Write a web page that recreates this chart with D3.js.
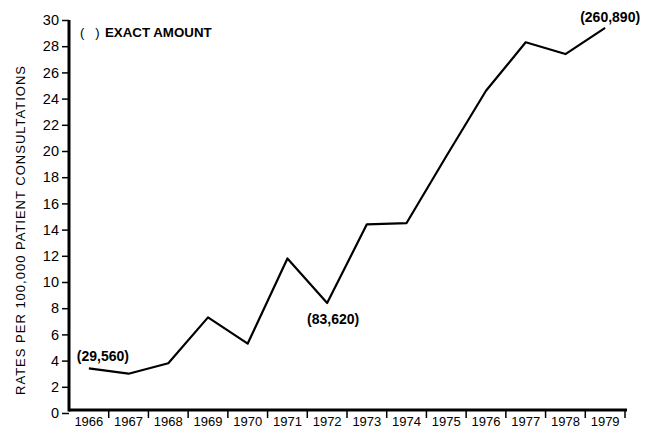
<!DOCTYPE html>
<html>
<head>
<meta charset="utf-8">
<script src="https://cdn.jsdelivr.net/npm/d3@7"></script>
<style>
  html, body { margin: 0; padding: 0; background: #fff; }
  svg { display: block; }
  text { font-family: "Liberation Sans", Arial, Helvetica, sans-serif; fill: #000; }
</style>
</head>
<body>
<svg id="chart" width="653" height="430"></svg>
<script>
const years = [1966, 1967, 1968, 1969, 1970, 1971, 1972, 1973, 1974, 1975, 1976, 1977, 1978, 1979];
const rates = [3.4, 3.0, 3.8, 7.3, 5.3, 11.8, 8.4, 14.4, 14.5, 19.6, 24.6, 28.3, 27.4, 29.4];
const yTicks = [0, 2, 4, 6, 8, 10, 12, 14, 16, 18, 20, 22, 24, 26, 28, 30];
const annotations = [
  { year: 1966, text: "(29,560)" },
  { year: 1972, text: "(83,620)" },
  { year: 1979, text: "(260,890)" }
];
const legendParen = "(   )";
const legendText = "EXACT AMOUNT";
const yTitle = "RATES PER 100,000 PATIENT CONSULTATIONS";

const svg = d3.select("#chart");
const mLeft = 69, mRight = 625, mBottom = 410;

const x = d3.scaleBand().domain(years).range([mLeft, mRight]).padding(0);
const y = d3.scaleLinear().domain([0, 30]).range([413, 20]);
const cx = d => x(d) + x.bandwidth() / 2;

// Y axis
const yAxis = d3.axisLeft(y).tickValues(yTicks).tickSize(7).tickPadding(3);
const gy = svg.append("g").attr("transform", `translate(${mLeft},0)`).call(yAxis);
gy.select(".domain").remove();
gy.selectAll(".tick line").attr("stroke", "#000").attr("stroke-width", 1.5);
gy.selectAll(".tick text").style("font-size", "14.5px").style("font-weight", "500").attr("fill", "#000");

svg.append("line").attr("x1", mLeft).attr("x2", mLeft).attr("y1", y(30)).attr("y2", mBottom + 1.5)
  .attr("stroke", "#000").attr("stroke-width", 3);

// X axis
svg.append("line").attr("x1", mLeft).attr("x2", mRight + 2).attr("y1", mBottom).attr("y2", mBottom)
  .attr("stroke", "#000").attr("stroke-width", 3);
const boundaries = years.slice(1).map(d => x(d)).concat([x.range()[1]]);
svg.append("g").selectAll("line").data(boundaries).join("line")
  .attr("x1", d => d).attr("x2", d => d).attr("y1", mBottom).attr("y2", mBottom + 8)
  .attr("stroke", "#000").attr("stroke-width", 1.5);
svg.append("g").selectAll("text").data(years).join("text")
  .attr("x", d => cx(d)).attr("y", 426)
  .attr("text-anchor", "middle")
  .style("font-size", "13px")
  .text(d => d);

// Line
const line = d3.line().x((d, i) => cx(years[i])).y(d => y(d));
svg.append("path").datum(rates).attr("d", line)
  .attr("fill", "none").attr("stroke", "#000").attr("stroke-width", 2.2).attr("stroke-linejoin", "round");

// Annotations
const annPos = {
  1966: { dx: 14, dy: -7 },
  1972: { dx: 6, dy: 21.5 },
  1979: { dx: 5, dy: -6 }
};
svg.append("g").selectAll("text").data(annotations).join("text")
  .attr("x", d => cx(d.year) + annPos[d.year].dx)
  .attr("y", d => y(rates[years.indexOf(d.year)]) + annPos[d.year].dy)
  .attr("text-anchor", "middle")
  .style("font-size", "14px").style("font-weight", "bold")
  .text(d => d.text);

// Legend
svg.append("text").attr("x", 80).attr("y", 37)
  .style("font-size", "13px")
  .attr("xml:space", "preserve")
  .text(legendParen);
svg.append("text").attr("x", 105).attr("y", 37)
  .style("font-size", "13.3px").style("font-weight", "bold")
  .text(legendText);

// Y title
svg.append("text")
  .attr("transform", `translate(25,${230}) rotate(-90)`)
  .attr("text-anchor", "middle")
  .style("font-size", "13px")
  .style("letter-spacing", "1px")
  .text(yTitle);
</script>
</body>
</html>
